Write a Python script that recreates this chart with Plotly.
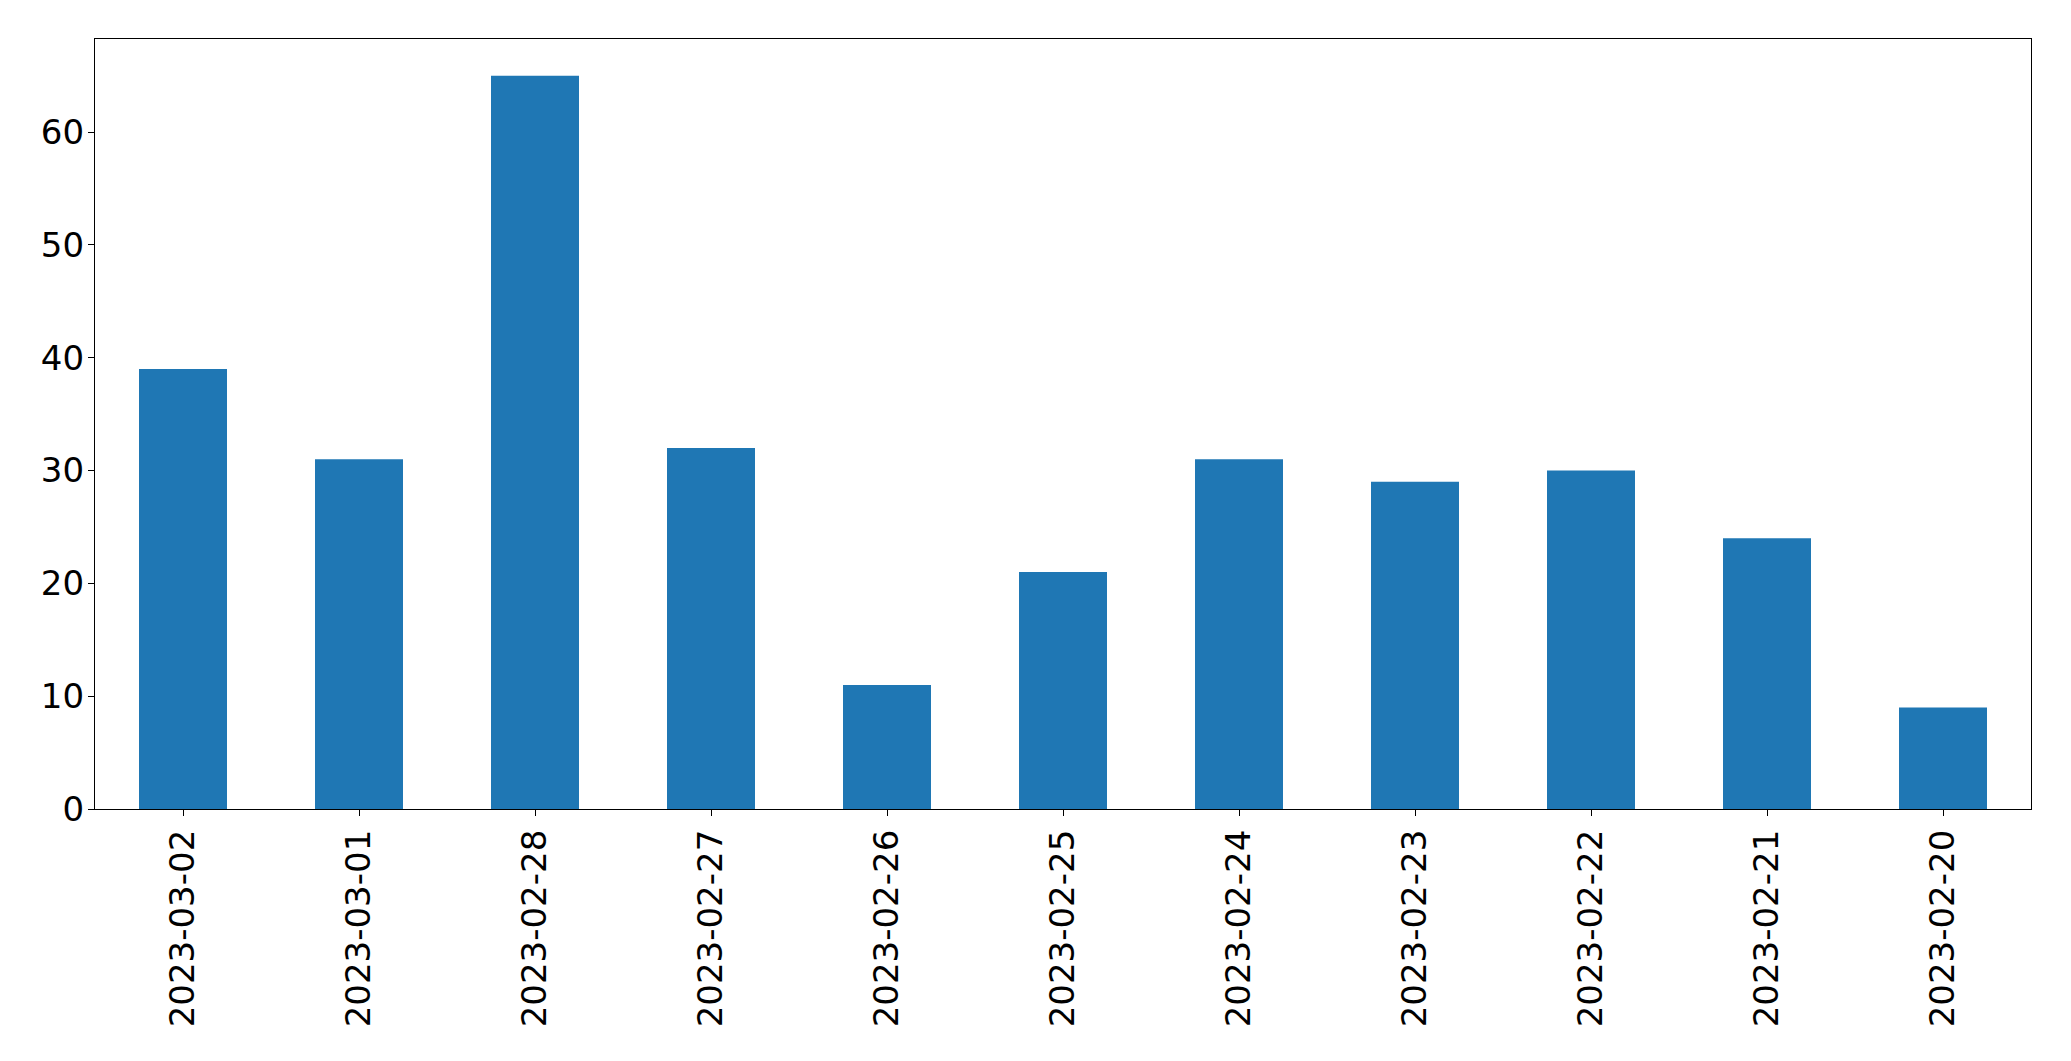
import plotly.graph_objects as go

dates = ["2023-03-02", "2023-03-01", "2023-02-28", "2023-02-27", "2023-02-26",
         "2023-02-25", "2023-02-24", "2023-02-23", "2023-02-22", "2023-02-21", "2023-02-20"]
counts = [39, 31, 65, 32, 11, 21, 31, 29, 30, 24, 9]

fig = go.Figure(go.Bar(x=dates, y=counts, marker=dict(color="#1f77b4", line=dict(width=0))))

font = dict(family="DejaVu Sans", size=34, color="black")
fig.update_layout(
    width=2055, height=1045,
    margin=dict(l=87, r=32, t=31, b=244),
    paper_bgcolor="white", plot_bgcolor="white",
    bargap=0.5, showlegend=False, font=font,
)
fig.update_xaxes(type="category", range=[-0.5, len(dates) - 0.5], tickangle=-90,
                 showline=True, mirror=True, linecolor="black", linewidth=1.3,
                 ticks="outside", ticklen=6, tickwidth=1.3, tickcolor="black",
                 showgrid=False, tickfont=font)
fig.update_yaxes(range=[0, max(counts) * 1.05], dtick=10, tick0=0,
                 showline=True, mirror=True, linecolor="black", linewidth=1.3,
                 ticks="outside", ticklen=6, tickwidth=1.3, tickcolor="black",
                 showgrid=False, zeroline=False, tickfont=font, ticklabelstandoff=-3)
fig.write_html("out.html")
